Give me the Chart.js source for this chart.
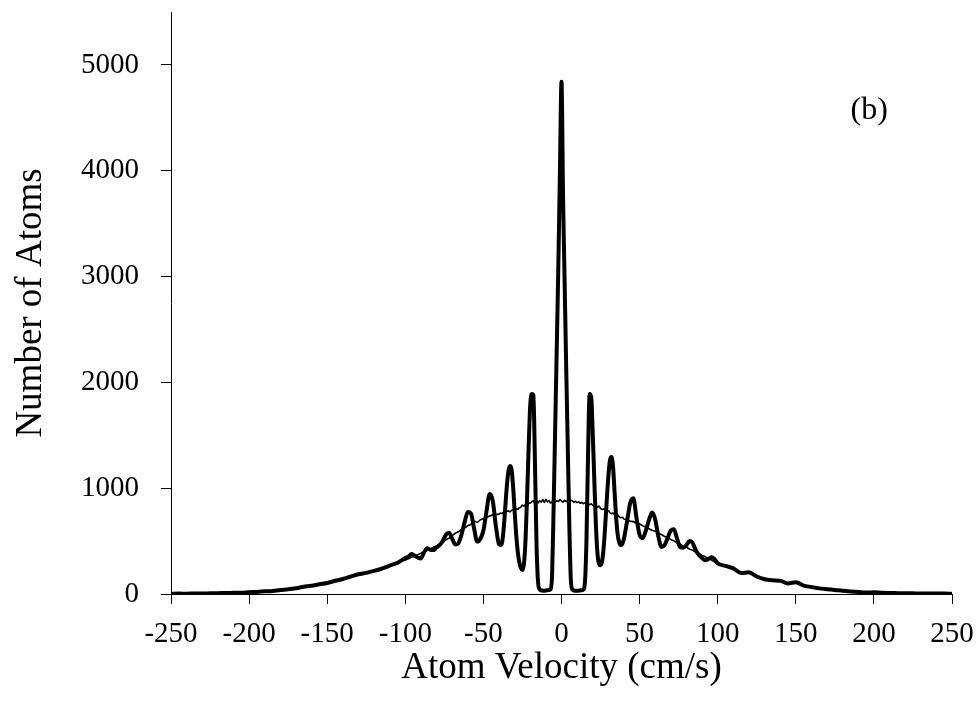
<!DOCTYPE html>
<html>
<head>
<meta charset="utf-8">
<script src="https://cdn.jsdelivr.net/npm/chart.js@4/dist/chart.umd.min.js"></script>
<style>
  html, body { margin: 0; padding: 0; background: #fff; }
  #wrap { width: 977px; height: 713px; }
</style>
</head>
<body>
<div id="wrap"><canvas id="chart" width="977" height="713"></canvas></div>
<script>
// Atom velocity distribution, panel (b): thick = after the pulse sequence, thin = initial cloud.
// Fine steps near the centre where the fringes are, coarse in the tails.

const VELOCITY = [
  -250, -245, -240, -235, -230, -225, -220, -215, -210, -205,
  -200, -195, -190, -185, -180, -175, -170, -165, -160, -155,
  -150, -145, -140, -135, -130, -125, -120, -115, -110, -105,
  -100, -98, -96, -94, -92, -90, -88, -86, -84, -82,
  -80, -78, -76, -74, -72, -70, -68, -66, -64, -62,
  -60, -58, -56, -54, -52, -50, -48, -46, -44, -42,
  -40, -39, -38, -37, -36, -35, -34, -33, -32, -31,
  -30, -29, -28, -27, -26, -25, -24, -23, -22, -21,
  -20, -19, -18, -17, -16, -15, -14, -13, -12, -11,
  -10, -9, -8, -7, -6, -5, -4, -3, -2, -1,
  0, 1, 2, 3, 4, 5, 6, 7, 8, 9,
  10, 11, 12, 13, 14, 15, 16, 17, 18, 19,
  20, 21, 22, 23, 24, 25, 26, 27, 28, 29,
  30, 31, 32, 33, 34, 35, 36, 37, 38, 39,
  40, 42, 44, 46, 48, 50, 52, 54, 56, 58,
  60, 62, 64, 66, 68, 70, 72, 74, 76, 78,
  80, 82, 84, 86, 88, 90, 92, 94, 96, 98,
  100, 105, 110, 115, 120, 125, 130, 135, 140, 145,
  150, 155, 160, 165, 170, 175, 180, 185, 190, 195,
  200, 205, 210, 215, 220, 225, 230, 235, 240, 245,
  250
];

// thick line: fringe pattern
const ATOMS_AFTER = [
  3, 4, 3, 5, 4, 6, 8, 9, 12, 13,
  17, 20, 25, 29, 38, 45, 55, 68, 78, 92,
  104, 125, 142, 165, 186, 200, 218, 240, 268, 295,
  340, 352, 378, 362, 345, 336, 392, 432, 418, 415,
  440, 462, 500, 560, 578, 522, 468, 480, 562, 680,
  775, 762, 622, 495, 520, 600, 782, 945, 880, 640,
  470, 462, 490, 620, 820, 1020, 1160, 1210, 1180, 1020,
  780, 560, 400, 300, 245, 226, 290, 520, 930, 1400,
  1790, 1890, 1880, 1250, 480, 110, 45, 35, 32, 30,
  33, 36, 38, 45, 190, 850, 1600, 2350, 3120, 4000,
  4840, 3750, 2950, 2150, 1400, 660, 130, 42, 33, 30,
  30, 32, 34, 36, 42, 110, 520, 1320, 1890, 1860,
  1520, 1080, 660, 390, 285, 272, 310, 440, 650, 890,
  1110, 1260, 1294, 1200, 960, 720, 560, 485, 462, 475,
  525, 690, 860, 905, 720, 560, 528, 600, 700, 770,
  705, 545, 445, 462, 532, 600, 612, 522, 442, 438,
  462, 500, 482, 412, 368, 340, 318, 330, 348, 330,
  290, 265, 242, 198, 205, 165, 140, 130, 125, 100,
  112, 80, 66, 53, 45, 38, 30, 24, 19, 14,
  16, 11, 9, 8, 7, 6, 5, 5, 4, 4,
  3
];

// thin line: smooth initial distribution
const ATOMS_BEFORE = [
  4, 3, 4, 4, 5, 6, 7, 10, 11, 14,
  16, 21, 24, 30, 36, 47, 53, 70, 76, 95,
  100, 128, 138, 168, 182, 205, 214, 245, 262, 300,
  322, 334, 348, 358, 372, 386, 398, 412, 424, 442,
  454, 476, 488, 512, 528, 552, 574, 588, 612, 624,
  646, 658, 690, 678, 700, 712, 722, 738, 748, 752,
  755, 765, 760, 775, 770, 782, 786, 776, 790, 796,
  790, 806, 800, 815, 822, 840, 830, 846, 838, 856,
  860, 872, 880, 850, 876, 860, 882, 868, 892, 864,
  896, 870, 882, 858, 876, 886, 868, 882, 874, 892,
  880, 868, 886, 874, 882, 868, 886, 880, 868, 876,
  864, 872, 858, 866, 854, 862, 848, 856, 844, 852,
  838, 834, 842, 818, 830, 808, 798, 806, 788, 778,
  786, 768, 760, 766, 748, 740, 746, 728, 720, 726,
  708, 702, 688, 684, 668, 662, 644, 632, 616, 602,
  592, 574, 562, 544, 532, 514, 502, 484, 472, 452,
  442, 424, 412, 394, 382, 364, 352, 334, 322, 304,
  288, 262, 238, 204, 196, 168, 144, 128, 122, 104,
  106, 84, 64, 56, 43, 40, 28, 26, 18, 15,
  13, 12, 8, 9, 6, 7, 4, 6, 3, 4,
  3
];

const X_TICKS = [-250, -200, -150, -100, -50, 0, 50, 100, 150, 200, 250];
const Y_TICKS = [0, 1000, 2000, 3000, 4000, 5000];
const X_MIN = -250, X_MAX = 250;
const Y_MIN = 0, Y_MAX = 5500;
const PANEL_LABEL = "(b)";
const PANEL_AT = { x: 197, y: 4570 };

const SERIF = "'Liberation Serif', 'Times New Roman', serif";

const pts = (ys) => VELOCITY.map((v, i) => ({ x: v, y: ys[i] }));

// draws the "(b)" tag at a data position
const panelTag = {
  id: "panelTag",
  afterDraw(chart) {
    const { ctx, scales } = chart;
    ctx.save();
    ctx.font = `32px ${SERIF}`;
    ctx.fillStyle = "#000";
    ctx.textAlign = "center";
    ctx.textBaseline = "middle";
    ctx.fillText(PANEL_LABEL, scales.x.getPixelForValue(PANEL_AT.x), scales.y.getPixelForValue(PANEL_AT.y));
    ctx.restore();
  },
};

new Chart(document.getElementById("chart"), {
  type: "line",
  data: {
    datasets: [
      { label: "before", data: pts(ATOMS_BEFORE), borderColor: "#000", borderWidth: 1.6, pointRadius: 0, cubicInterpolationMode: "monotone" },
      { label: "after", data: pts(ATOMS_AFTER), borderColor: "#000", borderWidth: 4, pointRadius: 0, cubicInterpolationMode: "monotone" },
    ],
  },
  options: {
    responsive: false, animation: false,
    layout: { padding: { top: 12, right: 25, left: 0, bottom: 0 } },
    plugins: { legend: { display: false }, tooltip: { enabled: false } },
    scales: {
      x: {
        type: "linear", min: X_MIN, max: X_MAX,
        afterBuildTicks: (s) => { s.ticks = X_TICKS.map((v) => ({ value: v })); },
        ticks: { color: "#000", padding: 13, font: { family: SERIF, size: 29 }, callback: (v) => String(v) },
        grid: { drawOnChartArea: false, drawTicks: true, tickLength: 10, color: "#000" },
        border: { color: "#000", width: 1 },
        title: { display: true, text: "Atom Velocity (cm/s)", color: "#000", font: { family: SERIF, size: 37 }, padding: { top: 0, bottom: 23 } },
        afterFit: (s) => { s.height = 119; s.paddingLeft = 0; s.paddingRight = 0; },
      },
      y: {
        min: Y_MIN, max: Y_MAX,
        afterBuildTicks: (s) => { s.ticks = Y_TICKS.map((v) => ({ value: v })); },
        ticks: { color: "#000", padding: 22, font: { family: SERIF, size: 29 }, callback: (v) => String(v) },
        grid: { drawOnChartArea: false, drawTicks: true, tickLength: 10, color: "#000" },
        border: { color: "#000", width: 1 },
        title: { display: true, text: "Number of Atoms", color: "#000", font: { family: SERIF, size: 37 }, padding: { top: 9, bottom: 0 } },
        afterFit: (s) => { s.width = 171; s.paddingTop = 0; s.paddingBottom = 0; },
      },
    },
  },
  plugins: [panelTag],
});
</script>
</body>
</html>
